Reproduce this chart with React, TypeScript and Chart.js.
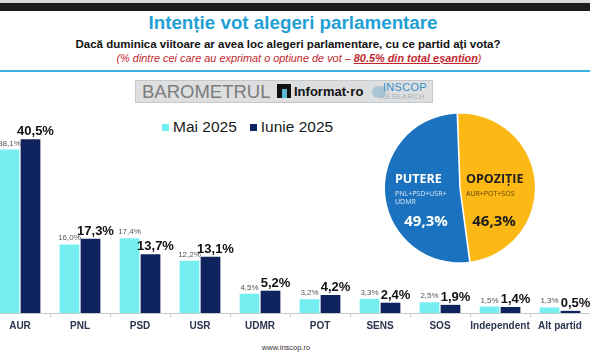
import React, { useEffect, useRef } from "react";
import { Chart, registerables } from "chart.js";
Chart.register(...registerables);

const categories = ["AUR", "PNL", "PSD", "USR", "UDMR", "POT", "SENS", "SOS", "Independent", "Alt partid"];
const maiValues = [38.1, 16.0, 17.4, 12.2, 4.5, 3.2, 3.3, 2.5, 1.5, 1.3];
const iunieValues = [40.5, 17.3, 13.7, 13.1, 5.2, 4.2, 2.4, 1.9, 1.4, 0.5];
const seriesNames = ["Mai 2025", "Iunie 2025"];
const seriesColors = ["#74eef0", "#0f245e"];
const blocNames = ["OPOZIȚIE", "PUTERE"];
const blocMembers = [["AUR+POT+SOS"], ["PNL+PSD+USR+", "UDMR"]];
const blocValues = [46.3, 49.3];
const blocColors = ["#fcb815", "#1b72be"];

const SANS = "'Liberation Sans', Arial, sans-serif";
const fmt = (v: number) => v.toFixed(1).replace(".", ",") + "%";

const barLabels = {
  id: "barLabels",
  afterDatasetsDraw(chart: any) {
    const ctx = chart.ctx;
    ctx.save();
    ctx.textAlign = "center";
    ctx.textBaseline = "alphabetic";
    chart.data.datasets.forEach((ds: any, di: number) => {
      const meta = chart.getDatasetMeta(di);
      meta.data.forEach((el: any, i: number) => {
        const v = ds.data[i];
        if (di === 0) {
          ctx.font = `8px ${SANS}`;
          ctx.fillStyle = "#555";
          ctx.fillText(fmt(v), el.x, el.y - 4);
        } else {
          ctx.font = `bold 13px ${SANS}`;
          ctx.fillStyle = "#111";
          ctx.fillText(fmt(v), el.x + 5, el.y - 4);
        }
      });
    });
    ctx.restore();
  },
};

const pieLabels = {
  id: "pieLabels",
  afterDatasetsDraw(chart: any) {
    const ctx = chart.ctx;
    const meta = chart.getDatasetMeta(0);
    const arc0 = meta.data[0];
    if (!arc0) return;
    const cx = arc0.x;
    const cy = arc0.y;
    const OS = "'Open Sans', sans-serif";
    ctx.save();
    const sides = [
      { i: 1, tx: -65, color: "#ffffff", sub: "#dce8f6", px: -34 },
      { i: 0, tx: 6, color: "#1e1e1e", sub: "#5b4206", px: 34 },
    ];
    sides.forEach((s) => {
      ctx.textAlign = "left";
      ctx.textBaseline = "alphabetic";
      ctx.font = `bold 12.5px ${OS}`;
      ctx.fillStyle = s.color;
      ctx.fillText(blocNames[s.i], cx + s.tx, cy - 5);
      ctx.font = `7px ${OS}`;
      ctx.fillStyle = s.sub;
      blocMembers[s.i].forEach((m, k) => {
        ctx.fillText(m, cx + s.tx, cy + 8 + k * 8);
      });
      ctx.textAlign = "center";
      ctx.font = `bold 15px ${OS}`;
      ctx.fillStyle = s.color;
      ctx.fillText(fmt(blocValues[s.i]), cx + s.px, cy + 38);
    });
    ctx.restore();
  },
};

export default function App() {
  const barRef = useRef<HTMLCanvasElement>(null);
  const pieRef = useRef<HTMLCanvasElement>(null);

  useEffect(() => {
    const bar = new Chart(barRef.current!, {
      type: "bar",
      data: {
        labels: categories,
        datasets: [
          { label: seriesNames[0], data: maiValues, backgroundColor: seriesColors[0], categoryPercentage: 0.7, barPercentage: 0.94 },
          { label: seriesNames[1], data: iunieValues, backgroundColor: seriesColors[1], categoryPercentage: 0.7, barPercentage: 0.94 },
        ],
      },
      options: {
        responsive: false,
        animation: false,
        layout: { padding: { top: 20, left: 0, right: 0, bottom: 0 } },
        plugins: { legend: { display: false }, tooltip: { enabled: false } },
        scales: {
          x: {
            offset: true,
            grid: { display: true, drawOnChartArea: false, drawTicks: true, tickLength: 4, color: "#c4c4c4", offset: true },
            border: { display: true, color: "#c8c8c8" },
            ticks: { font: { family: SANS, size: 10, weight: "bold" }, color: "#2b3550", padding: 3, autoSkip: false, maxRotation: 0 },
            afterFit: (s: any) => {
              s.height = 23;
            },
          },
          y: { display: false, min: 0, max: 45 },
        },
      },
      plugins: [barLabels],
    } as any);

    const pie = new Chart(pieRef.current!, {
      type: "pie",
      data: {
        labels: blocNames,
        datasets: [{ data: blocValues, backgroundColor: blocColors, borderWidth: 0, offset: 3 }],
      },
      options: {
        responsive: false,
        animation: false,
        rotation: -2,
        layout: { padding: 0 },
        plugins: { legend: { display: false }, tooltip: { enabled: false } },
      },
      plugins: [pieLabels],
    } as any);

    return () => {
      bar.destroy();
      pie.destroy();
    };
  }, []);

  return (
    <div style={{ position: "fixed", left: 0, top: 0, width: 590, height: 354, overflow: "hidden", background: "#fff", fontFamily: SANS }}>
      <div style={{ position: "absolute", left: 0, top: 0, width: 590, height: 3, background: "#d9d9d9" }} />
      <div style={{ position: "absolute", left: 0, top: 3, width: 590, height: 8, background: "#1c1c1c" }} />
      <div style={{ position: "absolute", left: 0, top: 11, width: 586, textAlign: "center", fontSize: 18.8, fontWeight: "bold", color: "#1f9fd4", lineHeight: "23px" }}>
        Intenție vot alegeri parlamentare
      </div>
      <div style={{ position: "absolute", left: 0, top: 37, width: 576, textAlign: "center", fontSize: 11.5, fontWeight: "bold", color: "#111", lineHeight: "14px" }}>
        Dacă duminica viitoare ar avea loc alegeri parlamentare, cu ce partid ați vota?
      </div>
      <div style={{ position: "absolute", left: 0, top: 51, width: 598, textAlign: "center", fontSize: 10.9, fontStyle: "italic", color: "#c0272d", lineHeight: "14px" }}>
        (% dintre cei care au exprimat o optiune de vot – <span style={{ fontWeight: "bold", textDecoration: "underline" }}>80.5% din total eșantion</span>)
      </div>
      <div style={{ position: "absolute", left: 0, top: 70, width: 590, height: 2, background: "#3cb4e2" }} />

      <div style={{ position: "absolute", left: 135, top: 80, width: 296, height: 21, background: "#dcdedf", border: "1px solid #c6c8ca" }}>
        <div style={{ position: "absolute", left: 6, top: 1, fontSize: 18.5, color: "#7c7c7c", lineHeight: "20px" }}>BAROMETRUL</div>
        <div style={{ position: "absolute", left: 141, top: 3, width: 14, height: 14, background: "#111" }}>
          <div style={{ position: "absolute", left: 5, top: 5, width: 5, height: 9, background: "#5ab7d6" }} />
        </div>
        <div style={{ position: "absolute", left: 158, top: 3, fontSize: 13, fontWeight: "bold", color: "#111", lineHeight: "16px" }}>Informat·ro</div>
        <div style={{ position: "absolute", left: 236, top: 5, width: 14, height: 12, borderRadius: 7, background: "#a9c6d6" }} />
        <div style={{ position: "absolute", left: 247, top: 1, fontSize: 11, color: "#3a8fc6", lineHeight: "11px", letterSpacing: 0.3 }}>INSCOP</div>
        <div style={{ position: "absolute", left: 244, top: 12, fontSize: 7.5, color: "#a8b0b6", lineHeight: "8px", letterSpacing: 0.4 }}>RESEARCH</div>
      </div>

      <div style={{ position: "absolute", left: 162, top: 118, display: "flex", alignItems: "center", fontSize: 15.5, color: "#1a1a1a", lineHeight: "18px" }}>
        <span style={{ width: 7, height: 7, background: seriesColors[0], marginRight: 4 }} />
        <span>{seriesNames[0]}</span>
        <span style={{ width: 7, height: 7, background: seriesColors[1], marginLeft: 13, marginRight: 4 }} />
        <span>{seriesNames[1]}</span>
      </div>

      <canvas ref={barRef} width={600} height={236} style={{ position: "absolute", left: -10, top: 100, width: 600, height: 236 }} />
      <canvas ref={pieRef} width={150} height={150} style={{ position: "absolute", left: 385, top: 113, width: 150, height: 150 }} />

      <div style={{ position: "absolute", left: 0, top: 343, width: 572, textAlign: "center", fontSize: 7.5, color: "#333", lineHeight: "10px" }}>www.inscop.ro</div>
    </div>
  );
}
